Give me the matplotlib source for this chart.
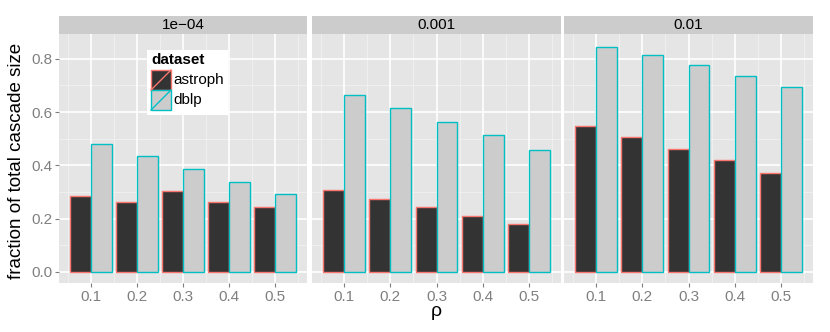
import matplotlib.pyplot as plt
import numpy as np
from matplotlib.patches import Rectangle
from matplotlib.lines import Line2D

plt.rcParams['font.family'] = ['Liberation Sans', 'DejaVu Sans']

# data
rho = ['0.1', '0.2', '0.3', '0.4', '0.5']
panels = ['1e\u221204', '0.001', '0.01']
astroph = [
    [0.286, 0.261, 0.303, 0.263, 0.242],
    [0.308, 0.273, 0.243, 0.208, 0.181],
    [0.549, 0.505, 0.461, 0.418, 0.370],
]
dblp = [
    [0.479, 0.436, 0.386, 0.339, 0.291],
    [0.665, 0.614, 0.564, 0.512, 0.458],
    [0.846, 0.813, 0.775, 0.736, 0.693],
]
datasets = ['astroph', 'dblp']
fills = ['#333333', '#CCCCCC']
edges = ['#F8766D', '#00BFC4']

W, H = 830, 332
fig = plt.figure(figsize=(8.3, 3.32), dpi=100)

# panel pixel extents (left, right)
panel_x = [(59, 307), (312, 561), (564, 813)]
top, bottom, strip_top = 34, 283, 16

x = np.arange(1, len(rho) + 1)
bw = 0.45
axes = []
for i, (x0, x1) in enumerate(panel_x):
    ax = fig.add_axes([x0 / W, 1 - bottom / H, (x1 - x0) / W, (bottom - top) / H])
    ax.set_facecolor('#E5E5E5')
    ax.set_xlim(0.31, 5.69)
    ax.set_ylim(-0.042, 0.893)
    # grid
    for v in [0.1, 0.3, 0.5, 0.7]:
        ax.axhline(v, color='#F2F2F2', lw=0.6, zorder=0)
    for v in np.arange(0.5, 6, 1.0):
        ax.axvline(v, color='#F2F2F2', lw=0.6, zorder=0)
    for v in [0.0, 0.2, 0.4, 0.6, 0.8]:
        ax.axhline(v, color='white', lw=1.2, zorder=0)
    for v in x:
        ax.axvline(v, color='white', lw=1.2, zorder=0)

    ax.bar(x - bw / 2, astroph[i], width=bw, color=fills[0], edgecolor=edges[0], lw=1.0, zorder=2)
    ax.bar(x + bw / 2, dblp[i], width=bw, color=fills[1], edgecolor=edges[1], lw=1.0, zorder=3)

    for s in ax.spines.values():
        s.set_visible(False)
    ax.set_xticks(x)
    ax.set_xticklabels(rho)
    ax.set_yticks([0.0, 0.2, 0.4, 0.6, 0.8])
    ax.tick_params(colors='#7F7F7F', labelsize=11, length=3, width=0.8, labelcolor='#7F7F7F', pad=2)
    if i > 0:
        ax.tick_params(axis='y', left=False, labelleft=False)
    else:
        ax.set_yticklabels(['0.0', '0.2', '0.4', '0.6', '0.8'])

    # facet strip
    sax = fig.add_axes([x0 / W, 1 - top / H, (x1 - x0) / W, (top - strip_top) / H])
    sax.set_facecolor('#CCCCCC')
    sax.set_xticks([])
    sax.set_yticks([])
    for s in sax.spines.values():
        s.set_visible(False)
    sax.text(0.5, 0.5, panels[i], ha='center', va='center', fontsize=11, color='black',
             transform=sax.transAxes)
    axes.append(ax)

fig.text(436 / W, 1 - 312 / H, '\u03c1', ha='center', va='center', fontsize=14)
fig.text(17 / W, 1 - ((top + 283) / 2 + 2) / H, 'fraction of total cascade size',
         rotation=90, ha='center', va='center', fontsize=13.5)

# legend drawn by hand (ggplot style keys with diagonal slash)
tr = fig.transFigure
fig.patches.append(Rectangle((147 / W, 1 - 115 / H), 81 / W, 65 / H, transform=tr,
                             facecolor='white', edgecolor='none', zorder=5))
fig.text(151 / W, 1 - 60 / H, 'dataset', fontsize=11, fontweight='bold',
         ha='left', va='center', zorder=6)
for k, name in enumerate(datasets):
    ky = 70 + 20 * k
    fig.patches.append(Rectangle((151 / W, 1 - (ky + 20) / H), 20 / W, 20 / H, transform=tr,
                                 facecolor=fills[k], edgecolor=edges[k], lw=1.0, zorder=6))
    fig.lines.append(Line2D([151 / W, 171 / W], [1 - (ky + 20) / H, 1 - ky / H], transform=tr,
                            color=edges[k], lw=1.0, zorder=7))
    fig.text(173 / W, 1 - (ky + 10) / H, name, fontsize=11, ha='left', va='center', zorder=7)

fig.savefig('out.png', dpi=100)
